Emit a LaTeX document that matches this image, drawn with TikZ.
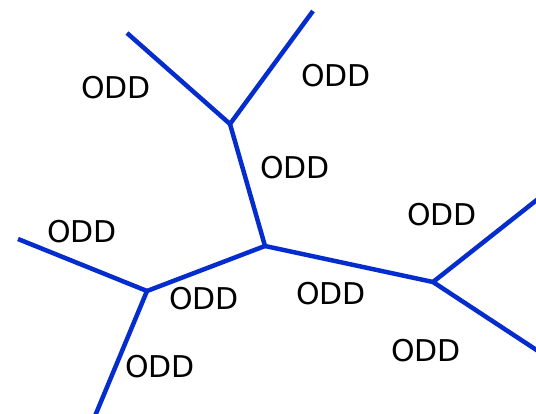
\documentclass[tikz,border=0pt]{standalone}
\usepackage{fontspec}
\setmainfont{DejaVu Sans}
\definecolor{edgeblue}{RGB}{5,45,205}
\begin{document}
\begin{tikzpicture}[x=1pt,y=-1pt,
  edge/.style={draw=edgeblue,line width=4.5pt,line cap=butt,line join=miter},
  lbl/.style={font=\fontsize{30}{33}\selectfont,text=black,inner sep=0pt}]
\useasboundingbox (0,0) rectangle (536,414);
% junctions
\coordinate (A) at (230,124);
\coordinate (B) at (265,246);
\coordinate (C) at (147,291);
\coordinate (D) at (433,282);
% free ends
\coordinate (a1) at (127,33);
\coordinate (a2) at (313,11);
\coordinate (c1) at (18,239);
\coordinate (c2) at (95,416);
\coordinate (d1) at (538,199);
\coordinate (d2) at (538,351);
% tree edges
\draw[edge] (a1) -- (A) -- (a2);
\draw[edge] (A) -- (B);
\draw[edge] (B) -- (C);
\draw[edge] (B) -- (D);
\draw[edge] (c1) -- (C) -- (c2);
\draw[edge] (d1) -- (D) -- (d2);
% labels
\node[lbl] (l1) at (116,88) {ODD};
\node[lbl] (l2) at (336,76) {ODD};
\node[lbl] (l3) at (295,168) {ODD};
\node[lbl] (l4) at (82,232) {ODD};
\node[lbl] (l5) at (442,215) {ODD};
\node[lbl] (l6) at (204,299) {ODD};
\node[lbl] (l7) at (331,294) {ODD};
\node[lbl] (l8) at (160,367) {ODD};
\node[lbl] (l9) at (426,351) {ODD};
\end{tikzpicture}
\end{document}
